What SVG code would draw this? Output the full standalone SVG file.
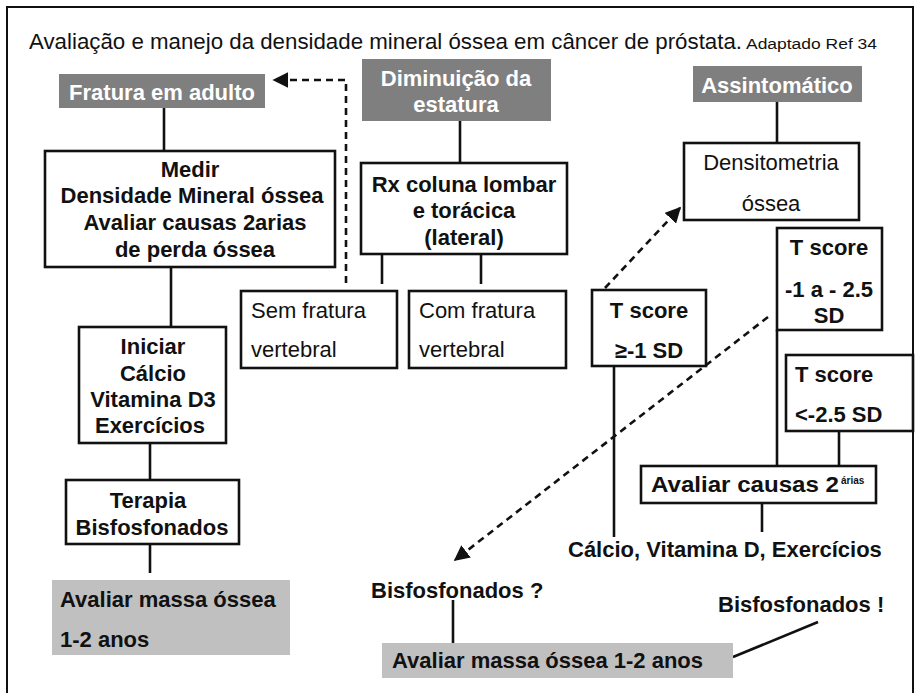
<svg xmlns="http://www.w3.org/2000/svg" width="917" height="693" viewBox="0 0 917 693">
<style>
text{font-family:"Liberation Sans",Arial,sans-serif;font-size:22px;fill:#111}
.b{font-weight:bold}
.w{fill:#fff;font-weight:bold}
.c{text-anchor:middle}
.box{fill:#fff;stroke:#111;stroke-width:2.6}
.dk{fill:#7f7f7f}
.lt{fill:#c0c0c0}
.ln{stroke:#111;stroke-width:2.6;fill:none}
.ds{stroke:#111;stroke-width:2.6;fill:none;stroke-dasharray:7 5}
</style>
<defs>
<marker id="ah" viewBox="0 0 10 10" refX="9" refY="5" markerWidth="6" markerHeight="6" orient="auto" markerUnits="strokeWidth">
<path d="M0,0 L10,5 L0,10 z" fill="#111"/>
</marker>
</defs>
<rect width="917" height="693" fill="#fff"/>
<path d="M7,693 V7 H913 V693" fill="none" stroke="#111" stroke-width="2"/>
<text x="29" y="49" textLength="713" lengthAdjust="spacingAndGlyphs">Avaliação e manejo da densidade mineral óssea em câncer de próstata.</text>
<text x="746" y="49" style="font-size:15.5px" textLength="131" lengthAdjust="spacingAndGlyphs">Adaptado Ref 34</text>

<g id="connectors">
<path class="ln" d="M164,108 V151"/>
<path class="ln" d="M171,267 V327"/>
<path class="ln" d="M150,443 V480"/>
<path class="ln" d="M150,544 V573"/>
<path class="ln" d="M460,121 V163"/>
<path class="ln" d="M382,254 V284"/>
<path class="ln" d="M481,254 V284"/>
<path class="ln" d="M777,102 V143"/>
<path class="ln" d="M777,330 V466"/>
<path class="ln" d="M839,431 V466"/>
<path class="ln" d="M762,503 V532"/>
<path class="ln" d="M614,366 V537"/>
<path class="ln" d="M453,600 V643"/>
<path class="ln" d="M818,622 L733,657"/>
<path class="ds" d="M346,283 V80 H274" marker-end="url(#ah)"/>
<path class="ds" d="M605,288 L680,208" marker-end="url(#ah)"/>
<path class="ds" d="M768,317 L455,560" marker-end="url(#ah)"/>
</g>

<g id="fratura">
<rect class="dk" x="59" y="74" width="206" height="34"/>
<text class="w c" x="162" y="100">Fratura em adulto</text>
</g>
<g id="diminuicao">
<rect class="dk" x="362" y="59" width="189" height="62"/>
<text class="w c" x="456" y="86">Diminuição da</text>
<text class="w c" x="456" y="112">estatura</text>
</g>
<g id="assintomatico">
<rect class="dk" x="693" y="66" width="169" height="36"/>
<text class="w c" x="777" y="93">Assintomático</text>
</g>
<g id="medir">
<rect class="box" x="45" y="151" width="290" height="116"/>
<text class="b c" x="190" y="177">Medir</text>
<text class="b c" x="192" y="203">Densidade Mineral óssea</text>
<text class="b c" x="195" y="230">Avaliar causas 2arias</text>
<text class="b c" x="195" y="257">de perda óssea</text>
</g>
<g id="iniciar">
<rect class="box" x="79" y="327" width="147" height="116"/>
<text class="b c" x="153" y="354">Iniciar</text>
<text class="b c" x="153" y="381">Cálcio</text>
<text class="b c" x="153" y="407">Vitamina D3</text>
<text class="b c" x="150" y="433">Exercícios</text>
</g>
<g id="terapia">
<rect class="box" x="66" y="480" width="173" height="64"/>
<text class="b c" x="148" y="508">Terapia</text>
<text class="b c" x="152" y="535">Bisfosfonados</text>
</g>
<g id="avaliar1">
<rect class="lt" x="52" y="580" width="238" height="75"/>
<text class="b" x="60" y="607">Avaliar massa óssea</text>
<text class="b" x="60" y="647">1-2 anos</text>
</g>
<g id="rx">
<rect class="box" x="361" y="163" width="206" height="91"/>
<text class="b c" x="464" y="192">Rx coluna lombar</text>
<text class="b c" x="464" y="218">e torácica</text>
<text class="b c" x="464" y="245">(lateral)</text>
</g>
<g id="semfratura">
<rect class="box" x="241" y="291" width="156" height="77"/>
<text x="251" y="318">Sem fratura</text>
<text x="251" y="357">vertebral</text>
</g>
<g id="comfratura">
<rect class="box" x="409" y="291" width="157" height="77"/>
<text x="419" y="318">Com fratura</text>
<text x="419" y="357">vertebral</text>
</g>
<g id="densitometria">
<rect class="box" x="684" y="143" width="175" height="77"/>
<text class="c" x="771" y="170">Densitometria</text>
<text class="c" x="771" y="211">óssea</text>
</g>
<g id="tscore1">
<rect class="box" x="777" y="228" width="105" height="102"/>
<text class="b c" x="829" y="255">T score</text>
<text class="b c" x="829" y="297">-1 a - 2.5</text>
<text class="b c" x="829" y="323">SD</text>
</g>
<g id="tscore2">
<rect class="box" x="592" y="290" width="114" height="76"/>
<text class="b c" x="649" y="318">T score</text>
<text class="b c" x="649" y="358">≥-1 SD</text>
</g>
<g id="tscore3">
<rect class="box" x="786" y="355" width="127" height="76"/>
<text class="b" x="795" y="382">T score</text>
<text class="b" x="795" y="422">&lt;-2.5 SD</text>
</g>
<g id="causas">
<rect class="box" x="641" y="466" width="235" height="37"/>
<text class="b" x="651" y="492" textLength="188" lengthAdjust="spacingAndGlyphs">Avaliar causas 2</text>
<text class="b" x="841" y="484" style="font-size:10px">árias</text>
</g>
<g id="calcio">
<text class="b" x="568" y="557">Cálcio, Vitamina D, Exercícios</text>
</g>
<g id="bisq">
<text class="b" x="371" y="598">Bisfosfonados ?</text>
</g>
<g id="bisex">
<text class="b" x="718" y="612">Bisfosfonados !</text>
</g>
<g id="avaliar2">
<rect class="lt" x="382" y="643" width="351" height="35"/>
<text class="b" x="392" y="668">Avaliar massa óssea 1-2 anos</text>
</g>
</svg>
